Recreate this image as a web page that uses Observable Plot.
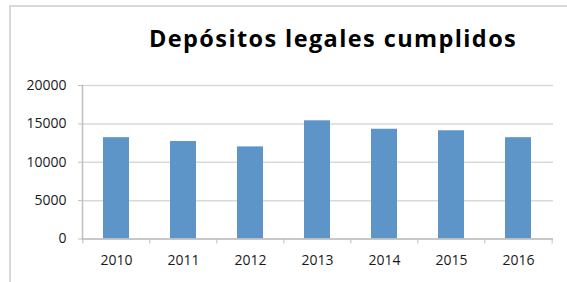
<!DOCTYPE html>
<html>
<head>
<meta charset="utf-8">
<script src="https://cdn.jsdelivr.net/npm/d3@7"></script>
<script src="https://cdn.jsdelivr.net/npm/@observablehq/plot@0.6"></script>
<style>
  html, body { margin: 0; padding: 0; background: #fff; }
  #wrap { position: relative; width: 567px; height: 282px; overflow: hidden; }
  #frame { position: absolute; left: 9px; top: 5px; width: 600px; height: 300px;
           border-left: 2px solid #d9d9d9; border-top: 2px solid #d9d9d9; box-sizing: border-box; }
  #title { position: absolute; left: 0; top: 23px; width: 100%; margin: 0; text-align: left;
           padding-left: 149px; box-sizing: border-box; letter-spacing: 1.4px;
           font-family: "Open Sans", sans-serif; font-weight: 700; font-size: 23.5px; color: #000; line-height: 30px; }
  #chart { position: absolute; left: 0; top: 0; }
</style>
</head>
<body>
<div id="wrap">
  <div id="frame"></div>
  <div id="chart"></div>
  <h1 id="title">Depósitos legales cumplidos</h1>
</div>
<script>
const years = ["2010", "2011", "2012", "2013", "2014", "2015", "2016"];
const values = [13200, 12700, 12000, 15400, 14300, 14100, 13200];
const yTicks = [0, 5000, 10000, 15000, 20000];

const data = years.map((y, i) => ({year: y, value: values[i]}));

const W = 567, H = 282;
const mL = 82, mR = 14, mT = 85, mB = 43.5;
const step = (W - mL - mR) / years.length;

const chart = Plot.plot({
  width: W,
  height: H,
  marginLeft: mL,
  marginRight: mR,
  marginTop: mT,
  marginBottom: mB,
  style: {fontFamily: "Open Sans, sans-serif", fontSize: "14px", color: "#333", background: "transparent"},
  x: {domain: years, paddingInner: 0.61, paddingOuter: 0.305, label: null},
  y: {domain: [0, 20000], label: null},
  marks: [
    Plot.gridY(yTicks, {stroke: "#d9d9d9", strokeOpacity: 1, strokeWidth: 1.5}),
    Plot.barY(data, {x: "year", y: "value", fill: "#5e95c9"}),
    Plot.ruleY([0], {stroke: "#bfbfbf", strokeWidth: 1.5}),
    Plot.frame({anchor: "left", stroke: "#bfbfbf", strokeWidth: 1.5}),
    Plot.axisY(yTicks, {tickSize: 4, tickPadding: 12, tickFormat: d => String(d), stroke: "#bfbfbf", fill: "#1a1a1a", fontSize: 14, style: {letterSpacing: "0.7px"}}),
    Plot.axisX({tickSize: 0, tickPadding: 16, fill: "#1a1a1a", fontSize: 14, style: {letterSpacing: "0.7px"}}),
    Plot.ruleX(years, {x: d => d, dx: -step / 2, y1: 0, y2: -650, stroke: "#bfbfbf"}),
    Plot.ruleX(years.slice(-1), {x: d => d, dx: step / 2, y1: 0, y2: -650, stroke: "#bfbfbf"})
  ]
});
document.getElementById("chart").append(chart);
</script>
</body>
</html>
